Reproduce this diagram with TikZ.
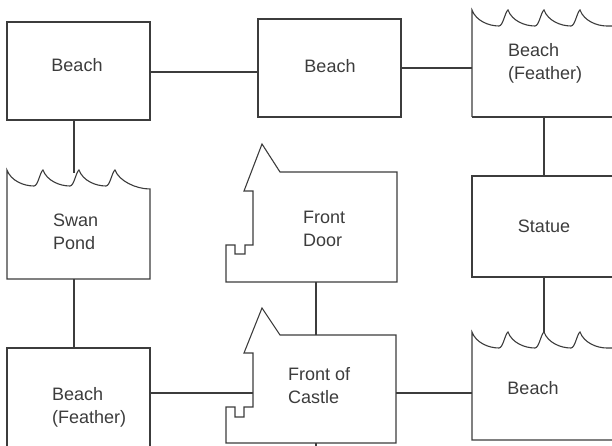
\documentclass[tikz,border=0pt]{standalone}
\usepackage{fontspec}
\setmainfont{Liberation Sans}
\definecolor{ink}{HTML}{3C3C3C}
\newcommand\scal{.. controls +(4,11) and +(-10,0) .. ++(27,16) .. controls +(4,0) and +(-3,2) .. ++(9,-16)}
\begin{document}
\begin{tikzpicture}[x=1pt,y=-1pt,
  shp/.style={draw=ink,line width=1.1pt,line join=miter},
  lnk/.style={draw=ink,line width=1.1pt},
  lbl/.style={text=ink,font=\fontsize{18}{23}\selectfont,inner sep=0pt},
  lbll/.style={lbl,align=left,anchor=west}]
\useasboundingbox (0,0) rectangle (612,446);
\clip (0,0) rectangle (612,446);
% shapes
\draw[shp] (7,22) rectangle (150,120);
\draw[shp] (258,19) rectangle (401,117);
\draw[shp] (472,117) -- (472,10) \scal \scal \scal .. controls +(4,11) and +(-10,0) .. ++(27,16) -- ++(20,0);
\draw[shp] (472,117) -- (620,117);
\draw[shp] (472,176) rectangle (620,277);
\draw[shp] (620,440) -- (472,440) -- (472,332) \scal \scal \scal .. controls +(4,11) and +(-10,0) .. ++(27,16) -- ++(20,0);
\draw[shp] (7,170) \scal \scal \scal .. controls +(4,11) and +(-14,0) .. (150,189) -- (150,279) -- (7,279) -- cycle;
\draw[shp] (7,450) -- (7,348) -- (150,348) -- (150,450);
\draw[shp] (262,144) -- (280,172) -- (397,172) -- (397,282) -- (226,282) -- (226,245) -- (235,245) -- (235,254) -- (245,254) -- (245,245) -- (253,245) -- (253,191) -- (244,191) -- cycle;
\draw[shp] (262,308) -- (280,335) -- (396,335) -- (396,443) -- (226,443) -- (226,407) -- (235,407) -- (235,417) -- (244,417) -- (244,407) -- (253,407) -- (253,353) -- (244,353) -- cycle;
% labels
\node[lbl] (b1) at (77,65) {Beach};
\node[lbl] (b2) at (330,66) {Beach};
\node[lbll] (b3) at (508,63.5) {Beach\\(Feather)};
\node[lbl] (st) at (544,226) {Statue};
\node[lbl] (b5) at (533,388) {Beach};
\node[lbll] (sp) at (53,231.5) {Swan\\Pond};
\node[lbll] (bf) at (52,407.5) {Beach\\(Feather)};
\node[lbll] (fd) at (303,228.5) {Front\\Door};
\node[lbll] (fc) at (288,385.5) {Front of\\Castle};
% connection points
\coordinate (b1r) at (150,72); \coordinate (b2l) at (258,72);
\coordinate (b2r) at (401,68); \coordinate (b3l) at (472,68);
\coordinate (b1b) at (74,120); \coordinate (spt) at (74,173);
\coordinate (spb) at (74,279); \coordinate (bft) at (74,348);
\coordinate (fdb) at (316,282); \coordinate (fct) at (316,335);
\coordinate (bfr) at (150,393); \coordinate (fcl) at (253,393);
\coordinate (fcr) at (396,393); \coordinate (b5l) at (472,393);
\coordinate (b3b) at (544,117); \coordinate (stt) at (544,176);
\coordinate (stb) at (544,277); \coordinate (b5t) at (544,333);
\coordinate (fcb) at (316,443); \coordinate (fcs) at (316,450);
% connectors
\draw[lnk] (b1r) -- (b2l);
\draw[lnk] (b2r) -- (b3l);
\draw[lnk] (b1b) -- (spt);
\draw[lnk] (spb) -- (bft);
\draw[lnk] (fdb) -- (fct);
\draw[lnk] (bfr) -- (fcl);
\draw[lnk] (fcr) -- (b5l);
\draw[lnk] (b3b) -- (stt);
\draw[lnk] (stb) -- (b5t);
\draw[lnk] (fcb) -- (fcs);
\end{tikzpicture}
\end{document}
